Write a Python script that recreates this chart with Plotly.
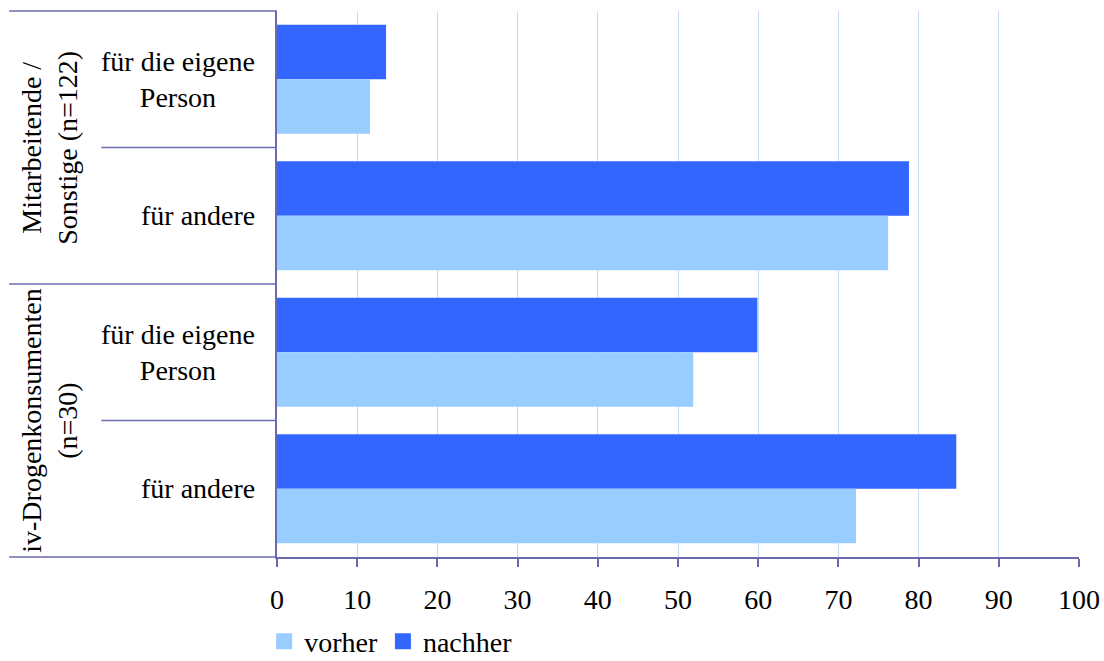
import plotly.graph_objects as go

# Gruppen und Zielpersonen (von oben nach unten)
groups = ["Mitarbeitende /<br>Sonstige (n=122)", "iv-Drogenkonsumenten<br>(n=30)"]
targets = ["für die eigene<br>Person", "für andere"]

# Anteile in Prozent, Reihenfolge: Gruppe 1 (eigene, andere), Gruppe 2 (eigene, andere)
vorher = [11.6, 76.2, 51.9, 72.2]
nachher = [13.6, 78.8, 59.9, 84.7]

x_ticks = list(range(0, 101, 10))

keys = [f"{g}|{t}" for g in groups for t in targets]

FONT = "Liberation Serif"
SIZE = 28
LINE = "#6A6AAE"
GRID = "#C8DDF3"
C_VORHER = "#99CCFF"
C_NACHHER = "#3366FF"

fig = go.Figure()
fig.add_trace(go.Bar(y=keys, x=nachher, orientation="h", name="nachher",
                     marker=dict(color=C_NACHHER, line=dict(width=0)),
                     showlegend=False))
fig.add_trace(go.Bar(y=keys, x=vorher, orientation="h", name="vorher",
                     marker=dict(color=C_VORHER, line=dict(width=0)),
                     showlegend=False))

# Legendeneinträge mit größeren quadratischen Symbolen
for name, color in [("vorher", C_VORHER), ("nachher", C_NACHHER)]:
    fig.add_trace(go.Scatter(x=[None], y=[None], mode="markers", name=name,
                             marker=dict(symbol="square", size=16, color=color,
                                         line=dict(width=0)),
                             showlegend=True, hoverinfo="skip"))

fig.update_layout(
    width=1104, height=661,
    margin=dict(l=277, r=25, t=11, b=104, autoexpand=False),
    paper_bgcolor="white", plot_bgcolor="white",
    font=dict(family=FONT, size=SIZE, color="black"),
    barmode="group", bargap=0.2, bargroupgap=0,
    showlegend=True,
    legend=dict(orientation="h", traceorder="normal", x=-0.016, xanchor="left",
                y=-0.155, yanchor="middle", font=dict(family=FONT, size=SIZE),
                itemwidth=30, tracegroupgap=0, bgcolor="rgba(0,0,0,0)"),
)

fig.update_xaxes(range=[0, 100], tickvals=x_ticks, showgrid=True, gridcolor=GRID,
                 gridwidth=1, zeroline=False, showline=True, linecolor=LINE,
                 linewidth=1.5, ticks="outside", ticklen=8, tickcolor=LINE,
                 tickwidth=1.5, ticklabelstandoff=9, fixedrange=True,
                 tickfont=dict(family=FONT, size=SIZE))
fig.update_yaxes(range=[len(keys) - 0.5, -0.5], categoryorder="array",
                 categoryarray=keys, showticklabels=False, showgrid=False,
                 zeroline=False, showline=True, linecolor=LINE, linewidth=1.5,
                 ticks="", fixedrange=True)

# Beschriftungen der Zielpersonen (innere Kategorie)
for k in keys:
    fig.add_annotation(x=-0.025, xref="paper", y=k, yref="y", text=k.split("|")[1],
                       showarrow=False, xanchor="right", align="center",
                       font=dict(family=FONT, size=SIZE))

# Gruppenbeschriftungen, senkrecht
n_inner = len(targets)
for i, g in enumerate(groups):
    fig.add_annotation(x=-0.284, xref="paper", y=i * n_inner + (n_inner - 1) / 2,
                       yref="y", text=g, showarrow=False, textangle=-90,
                       xanchor="center", yanchor="middle", align="center",
                       font=dict(family=FONT, size=SIZE))

# Trennlinien der Kategorien links neben der Achse
n = len(keys)
for b in range(n + 1):
    frac = 1 - b / n
    x0 = -0.334 if b % n_inner == 0 else -0.219
    fig.add_shape(type="line", xref="paper", yref="paper", x0=x0, x1=0,
                  y0=frac, y1=frac, line=dict(color=LINE, width=1.5))

fig.write_html("out.html")
